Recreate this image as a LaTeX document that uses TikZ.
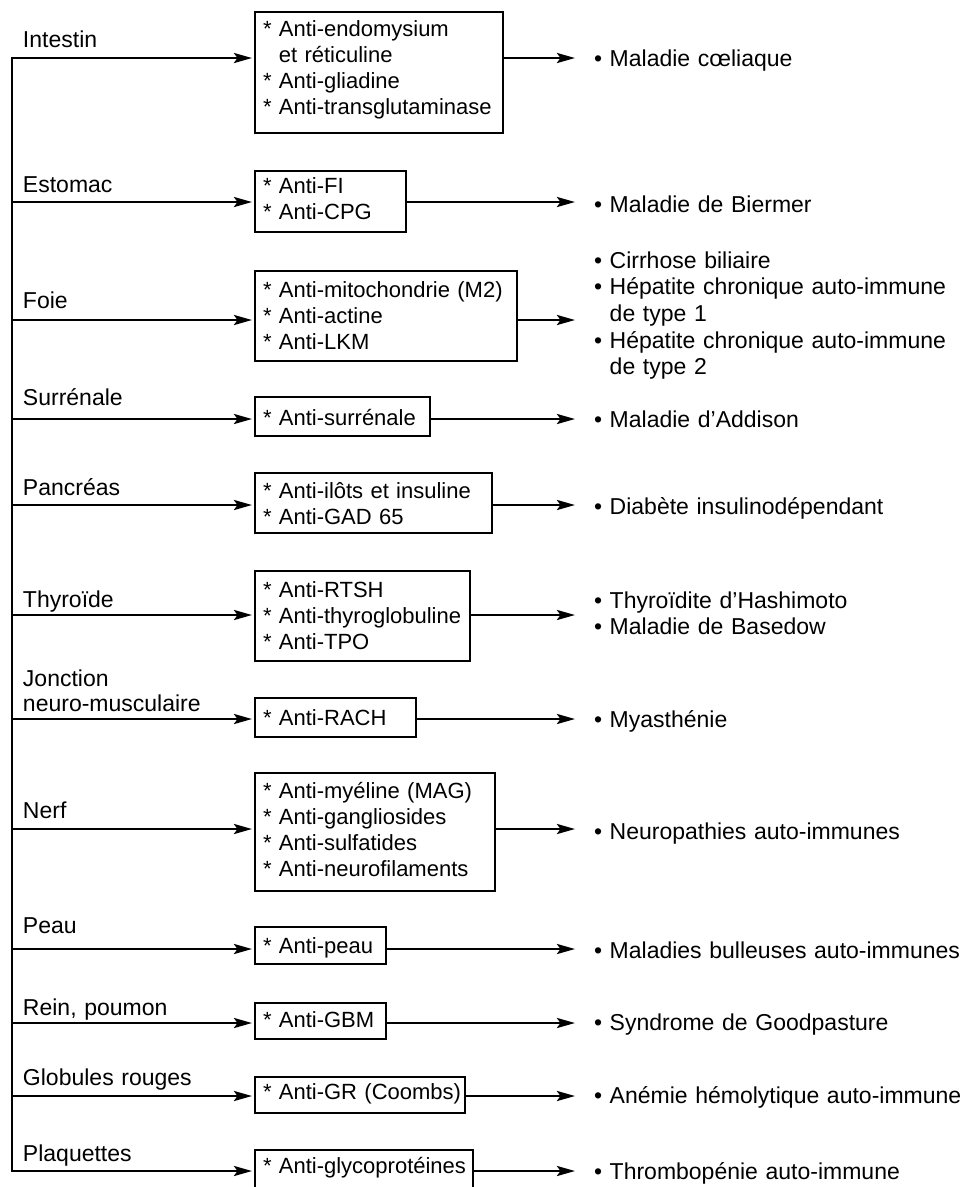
\documentclass[tikz,border=0pt]{standalone}
\usepackage{fontspec}
\setmainfont{Liberation Sans}
\usetikzlibrary{arrows.meta}
\begin{document}
\begin{tikzpicture}[x=1pt,y=-1pt,
  >={Stealth[length=18pt,width=10pt,inset=3.5pt]},
  conn/.style={line width=2.7pt},
  organ/.style={anchor=base west, inner sep=0pt, outer sep=0pt, font=\fontsize{23}{25}\selectfont, text width=300pt, align=left},
  abox/.style={draw, line width=2.7pt, anchor=base west, inner xsep=8pt, inner ysep=0pt, outer sep=0pt, align=left, font=\fontsize{22}{26.3}\selectfont},
  dis/.style={anchor=base west, inner sep=0pt, outer sep=0pt, font=\fontsize{23}{26.7}\selectfont, text width=368pt, align=left},
]
\clip (0,0) rectangle (964,1187);

% row coordinates on the trunk
\coordinate (tI) at (12,58);
\coordinate (tE) at (12,202);
\coordinate (tF) at (12,320);
\coordinate (tS) at (12,419);
\coordinate (tPa) at (12,505);
\coordinate (tT) at (12,615);
\coordinate (tJ) at (12,719);
\coordinate (tN) at (12,829);
\coordinate (tPe) at (12,949);
\coordinate (tR) at (12,1023);
\coordinate (tG) at (12,1096);
\coordinate (tPl) at (12,1171);

% organ labels
\node[organ] (lI) at (23,47) {Intestin};
\node[organ] (lE) at (23,192) {Estomac};
\node[organ] (lF) at (23,308) {Foie};
\node[organ] (lS) at (23,405) {Surrénale};
\node[organ] (lPa) at (23,495) {Pancréas};
\node[organ] (lT) at (23,607) {Thyroïde};
\node[organ] (lJ) at (23,686) {Jonction\\neuro-musculaire};
\node[organ] (lN) at (23,818) {Nerf};
\node[organ] (lPe) at (23,933) {Peau};
\node[organ] (lR) at (23,1015) {Rein, poumon};
\node[organ] (lG) at (23,1085) {Globules rouges};
\node[organ] (lPl) at (23,1161) {Plaquettes};

% antibody boxes
\node[abox, text width=232pt, text height=24pt, text depth=97pt] (bI) at (255,36)
  {\mbox{* Anti-endomysium}\\\mbox{\hphantom{*\ }et réticuline}\\\mbox{* Anti-gliadine}\\\mbox{* Anti-transglutaminase}};
\node[abox, text width=135pt, text height=22pt, text depth=39pt] (bE) at (255,193)
  {\mbox{* Anti-FI}\\\mbox{* Anti-CPG}};
\node[abox, text width=246pt, text height=26pt, text depth=64pt] (bF) at (255,297)
  {\mbox{* Anti-mitochondrie (M2)}\\\mbox{* Anti-actine}\\\mbox{* Anti-LKM}};
\node[abox, text width=159pt, text height=28pt, text depth=11pt] (bS) at (255,425)
  {\mbox{* Anti-surrénale}};
\node[abox, text width=221pt, text height=25pt, text depth=35pt] (bPa) at (255,498)
  {\mbox{* Anti-ilôts et insuline}\\\mbox{* Anti-GAD 65}};
\node[abox, text width=199pt, text height=26pt, text depth=64pt] (bT) at (255,597)
  {\mbox{* Anti-RTSH}\\\mbox{* Anti-thyroglobuline}\\\mbox{* Anti-TPO}};
\node[abox, text width=145pt, text height=27pt, text depth=12pt] (bJ) at (255,725)
  {\mbox{* Anti-RACH}};
\node[abox, text width=224pt, text height=25pt, text depth=93pt] (bN) at (255,798)
  {\mbox{* Anti-myéline (MAG)}\\\mbox{* Anti-gangliosides}\\\mbox{* Anti-sulfatides}\\\mbox{* Anti-neurofilaments}};
\node[abox, text width=115pt, text height=26pt, text depth=11pt] (bPe) at (255,953)
  {\mbox{* Anti-peau}};
\node[abox, text width=115pt, text height=24pt, text depth=12pt] (bR) at (255,1027)
  {\mbox{* Anti-GBM}};
\node[abox, text width=194pt, text height=22pt, text depth=14pt] (bG) at (255,1099)
  {\mbox{* Anti-GR (Coombs)}};
\node[abox, text width=202pt, text height=23pt, text depth=24pt] (bPl) at (255,1173)
  {\mbox{* Anti-glycoprotéines}};

% diseases
\node[dis] (dI) at (594,66) {• Maladie cœliaque};
\node[dis] (dE) at (594,212) {• Maladie de Biermer};
\node[dis] (dF) at (594,268) {\mbox{• Cirrhose biliaire}\\\mbox{• Hépatite chronique auto-immune}\\\mbox{\hphantom{•\ }de type 1}\\\mbox{• Hépatite chronique auto-immune}\\\mbox{\hphantom{•\ }de type 2}};
\node[dis] (dS) at (594,427) {• Maladie d’Addison};
\node[dis] (dPa) at (594,514) {• Diabète insulinodépendant};
\node[dis] (dT) at (594,608) {\mbox{• Thyroïdite d’Hashimoto}\\\mbox{• Maladie de Basedow}};
\node[dis] (dJ) at (594,727) {• Myasthénie};
\node[dis] (dN) at (594,839) {• Neuropathies auto-immunes};
\node[dis] (dPe) at (594,958) {• Maladies bulleuses auto-immunes};
\node[dis] (dR) at (594,1030) {• Syndrome de Goodpasture};
\node[dis] (dG) at (594,1103) {• Anémie hémolytique auto-immune};
\node[dis] (dPl) at (594,1179) {• Thrombopénie auto-immune};

% trunk with first and last arrows
\draw[conn, <->, shorten <=3pt, shorten >=3pt] (bPl.west |- tPl) -- (tPl) -- (tI) -- (bI.west |- tI);
% inputs
\foreach \r in {E,F,S,Pa,T,J,N,Pe,R,G}
  \draw[conn, ->, shorten >=3pt] (t\r) -- (b\r.west |- t\r);
% outputs
\foreach \r in {I,E,F,S,Pa,T,J,N,Pe,R,G,Pl}
  \draw[conn, ->, shorten >=19pt] (b\r.east |- t\r) -- (d\r.west |- t\r);
\end{tikzpicture}
\end{document}
